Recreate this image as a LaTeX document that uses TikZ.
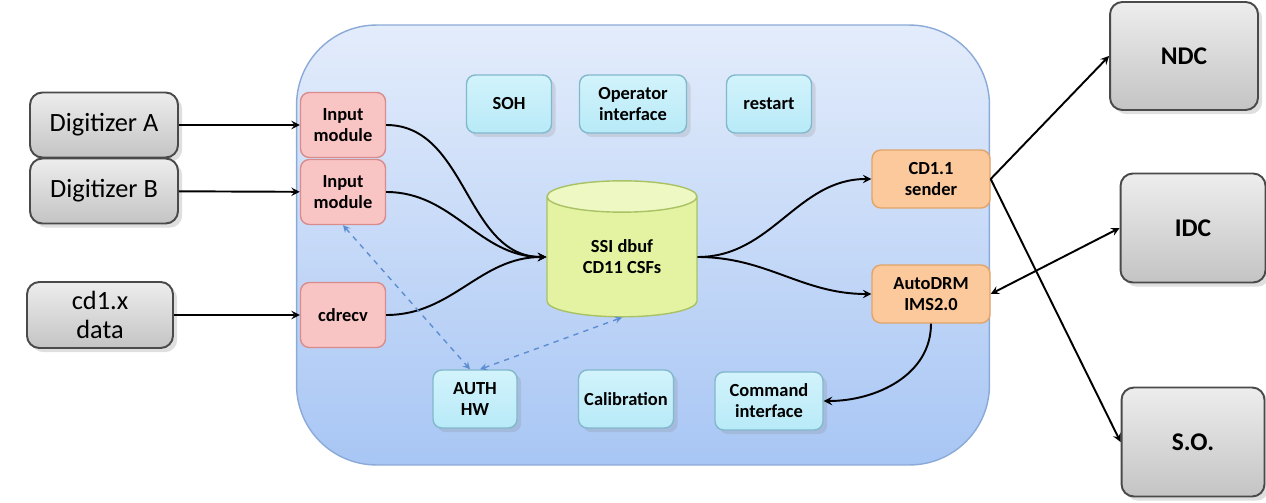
\documentclass[tikz,border=0pt]{standalone}
\usepackage{fontspec}
\setmainfont{Carlito}
\usetikzlibrary{shapes,arrows,positioning,shadows}

\definecolor{graytop}{HTML}{EDEDED}
\definecolor{graybot}{HTML}{C4C4C4}
\definecolor{grayline}{HTML}{4A4A4A}
\definecolor{redfill}{HTML}{F9C4C4}
\definecolor{redline}{HTML}{D88C8C}
\definecolor{cyantop}{HTML}{D2F3FB}
\definecolor{cyanbot}{HTML}{B8EAF8}
\definecolor{cyanline}{HTML}{82B8CC}
\definecolor{orangefill}{HTML}{FBC99B}
\definecolor{orangeline}{HTML}{E2A468}
\definecolor{dbufbody}{HTML}{E3F3A2}
\definecolor{dbufend}{HTML}{EEF8C2}
\definecolor{dbufline}{HTML}{A9C264}
\definecolor{stationtop}{HTML}{E3ECFB}
\definecolor{stationbot}{HTML}{A8C6F4}
\definecolor{stationline}{HTML}{8CAAD8}
\definecolor{dashblue}{HTML}{5E8ED2}

\tikzset{
	outside/.style = {draw = grayline, line width = 1.1pt, rounded corners = 7pt,
		top color = graytop, bottom color = graybot, align = center, inner sep = 0pt,
		minimum width = 2.96cm, minimum height = 1.3cm,
		font = \fontsize{15}{17}\selectfont, drop shadow = {opacity = .25}},
	module/.style = {draw = redline, line width = .8pt, rounded corners = 5pt,
		fill = redfill, align = center, inner sep = 0pt,
		minimum width = 1.7cm, minimum height = 1.3cm,
		font = \fontsize{10.5}{12}\selectfont\bfseries},
	service/.style = {draw = cyanline, line width = .8pt, rounded corners = 5pt,
		top color = cyantop, bottom color = cyanbot, align = center, inner sep = 0pt,
		minimum width = 1.7cm, minimum height = 1.16cm,
		font = \fontsize{10.5}{12}\selectfont\bfseries, drop shadow = {opacity = .2}},
	sender/.style = {draw = orangeline, line width = .8pt, rounded corners = 5pt,
		fill = orangefill, align = center, inner sep = 0pt,
		minimum width = 2.36cm, minimum height = 1.16cm,
		font = \fontsize{10.5}{12}\selectfont\bfseries},
	link/.style = {->, line width = 1.1pt, black},
	ctrl/.style = {<->, line width = .8pt, dashed, dashblue}
}

\begin{document}
\begin{tikzpicture}[x = 0.02cm, y = -0.02cm, >=stealth]

	\useasboundingbox (0,0) rectangle (1266,503);

	% station
	\node[draw = stationline, line width = .8pt, rounded corners = 1.6cm,
		top color = stationtop, bottom color = stationbot,
		minimum width = 13.86cm, minimum height = 8.8cm] (station) at (643,245) {};

	% sources
	\node[outside] (digA) at (104,125) {Digitizer A};
	\node[outside] (digB) at (104,191) {Digitizer B};
	\node[outside, minimum width = 2.92cm, minimum height = 1.32cm] (cdx) at (100,315) {cd1.x\\data};

	% receivers
	\node[module] (inA) at (343,125) {Input\\module};
	\node[module] (inB) at (343,192) {Input\\module};
	\node[module] (cdrecv) at (343,315) {cdrecv};

	% services
	\node[service] (soh) at (509,104) {SOH};
	\node[service, minimum width = 2.14cm] (oper) at (633,104) {Operator\\interface};
	\node[service] (restart) at (769,104) {restart};
	\node[service, minimum width = 1.68cm] (auth) at (475,399) {AUTH\\HW};
	\node[service, minimum width = 1.9cm] (calib) at (626,399) {Calibration};
	\node[service, minimum width = 2.16cm] (cmd) at (769,401) {Command\\interface};

	% data buffer
	\node[cylinder, shape border rotate = 90, aspect = 0.4, draw = dbufline, line width = .8pt,
		cylinder uses custom fill, cylinder body fill = dbufbody, cylinder end fill = dbufend,
		minimum width = 3cm, minimum height = 2.72cm, align = center, inner sep = 0pt,
		font = \fontsize{10.5}{12}\selectfont\bfseries] (dbuf) at (622,257) {SSI dbuf\\CD11 CSFs};

	% senders
	\node[sender] (cd11) at (931,179) {CD1.1\\sender};
	\node[sender] (autodrm) at (931,294) {AutoDRM\\IMS2.0};

	% destinations
	\node[outside, minimum height = 2.16cm, font = \fontsize{14.5}{16}\selectfont\bfseries] (ndc) at (1184,56) {NDC};
	\node[outside, minimum width = 2.9cm, minimum height = 2.18cm, font = \fontsize{14.5}{16}\selectfont\bfseries] (idc) at (1193,228) {IDC};
	\node[outside, minimum width = 2.86cm, minimum height = 2.18cm, font = \fontsize{14.5}{16}\selectfont\bfseries] (so) at (1193,442) {S.O.};

	\draw[link] (digA) -- (inA);
	\draw[link] (digB) -- (inB);
	\draw[link] (cdx) -- (cdrecv);

	\draw[link] (inA.east) to[out = 0, in = 180] (dbuf.west);
	\draw[link] (inB.east) to[out = 0, in = 180] (dbuf.west);
	\draw[link] (cdrecv.east) to[out = 0, in = 180] (dbuf.west);

	\draw[link] (dbuf.east) to[out = 0, in = 180] (cd11.west);
	\draw[link] (dbuf.east) to[out = 0, in = 180] (autodrm.west);

	\draw[link] (cd11.east) -- (ndc.west);
	\draw[link] (cd11.east) -- (so.west);
	\draw[link, <->] (autodrm.east) -- (idc.west);
	\draw[link] (autodrm.south) to[out = -90, in = 0] (cmd.east);

	\draw[ctrl] (inB.south) -- ([xshift = -.1cm]auth.north);
	\draw[ctrl] ([xshift = .1cm]auth.north) -- (dbuf.south);

\end{tikzpicture}
\end{document}
